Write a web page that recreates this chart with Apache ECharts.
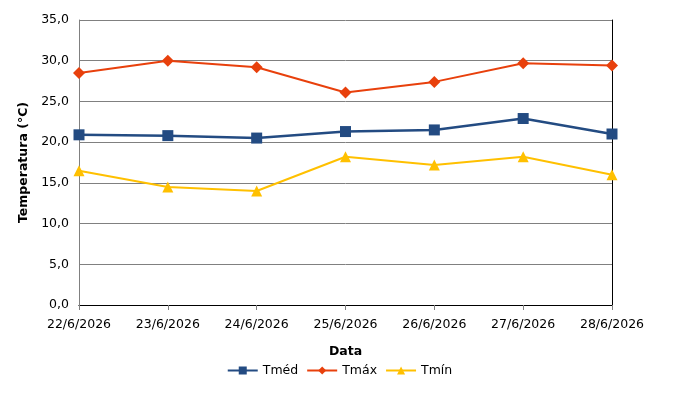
<!DOCTYPE html>
<html>
<head>
<meta charset="utf-8">
<script src="https://cdn.jsdelivr.net/npm/echarts@6/dist/echarts.min.js"></script>
<style>
  html, body { margin: 0; padding: 0; background: #fff; }
  #chart { width: 679px; height: 402px; }
</style>
</head>
<body>
<div id="chart"></div>
<script>
// datas e temperaturas
var datas = ['22/6/2026', '23/6/2026', '24/6/2026', '25/6/2026', '26/6/2026', '27/6/2026', '28/6/2026'];
var tMed = [20.9, 20.8, 20.5, 21.3, 21.5, 22.9, 21.0];
var tMax = [28.5, 30.0, 29.2, 26.1, 27.4, 29.7, 29.4];
var tMin = [16.5, 14.5, 14.0, 18.2, 17.2, 18.2, 16.0];

var fonte = 'DejaVu Sans';
var myChart = echarts.init(document.getElementById('chart'));

function fmt(v) { return v.toFixed(1).replace('.', ','); }

var option = {
    animation: false,
    textStyle: { fontFamily: fonte },
    grid: { left: 79, right: 67, top: 20, bottom: 97 },
    legend: {
        bottom: 20,
        left: 'center',
        itemWidth: 30,
        itemHeight: 10,
        itemGap: 8,
        textStyle: { fontFamily: fonte, fontSize: 12.5, color: '#000' },
        data: ['Tméd', 'Tmáx', 'Tmín']
    },
    xAxis: [{
        type: 'category',
        data: datas,
        boundaryGap: false,
        name: 'Data',
        nameLocation: 'middle',
        nameGap: 40,
        nameTextStyle: { fontFamily: fonte, fontWeight: 'bold', fontSize: 12.5, color: '#000' },
        axisLine: { lineStyle: { color: '#808080', width: 1 } },
        axisTick: { show: true, length: 5, lineStyle: { color: '#808080' } },
        axisLabel: { color: '#000', fontSize: 12.5, margin: 13, interval: 0 }
    }, {
        type: 'category',
        data: datas,
        boundaryGap: false,
        position: 'top',
        axisLine: { lineStyle: { color: '#000', width: 1 } },
        axisTick: { show: false },
        axisLabel: { show: false }
    }],
    yAxis: [{
        type: 'value',
        min: 0,
        max: 35,
        interval: 5,
        name: 'Temperatura (°C)',
        nameLocation: 'middle',
        nameGap: 45,
        nameTextStyle: { fontFamily: fonte, fontWeight: 'bold', fontSize: 12.5, color: '#000' },
        axisLine: { show: true, lineStyle: { color: '#808080' } },
        axisTick: { show: false },
        axisLabel: { color: '#000', fontSize: 12.5, margin: 10, formatter: fmt },
        splitLine: { lineStyle: { color: '#808080', width: 1 } }
    }, {
        type: 'value',
        min: 0,
        max: 35,
        interval: 5,
        position: 'right',
        axisLine: { show: true, lineStyle: { color: '#000' } },
        axisTick: { show: false },
        axisLabel: { show: false },
        splitLine: { show: false }
    }],
    series: [{
        name: 'Tméd',
        type: 'line',
        data: tMed,
        symbol: 'rect',
        symbolSize: 11,
        lineStyle: { color: '#234B82', width: 2.5 },
        itemStyle: { color: '#234B82' }
    }, {
        name: 'Tmáx',
        type: 'line',
        data: tMax,
        symbol: 'diamond',
        symbolSize: 12,
        lineStyle: { color: '#E8400C', width: 2 },
        itemStyle: { color: '#E8400C' }
    }, {
        name: 'Tmín',
        type: 'line',
        data: tMin,
        symbol: 'triangle',
        symbolSize: 11,
        lineStyle: { color: '#FFC000', width: 2 },
        itemStyle: { color: '#FFC000' }
    }]
};

myChart.setOption(option);
</script>
</body>
</html>
